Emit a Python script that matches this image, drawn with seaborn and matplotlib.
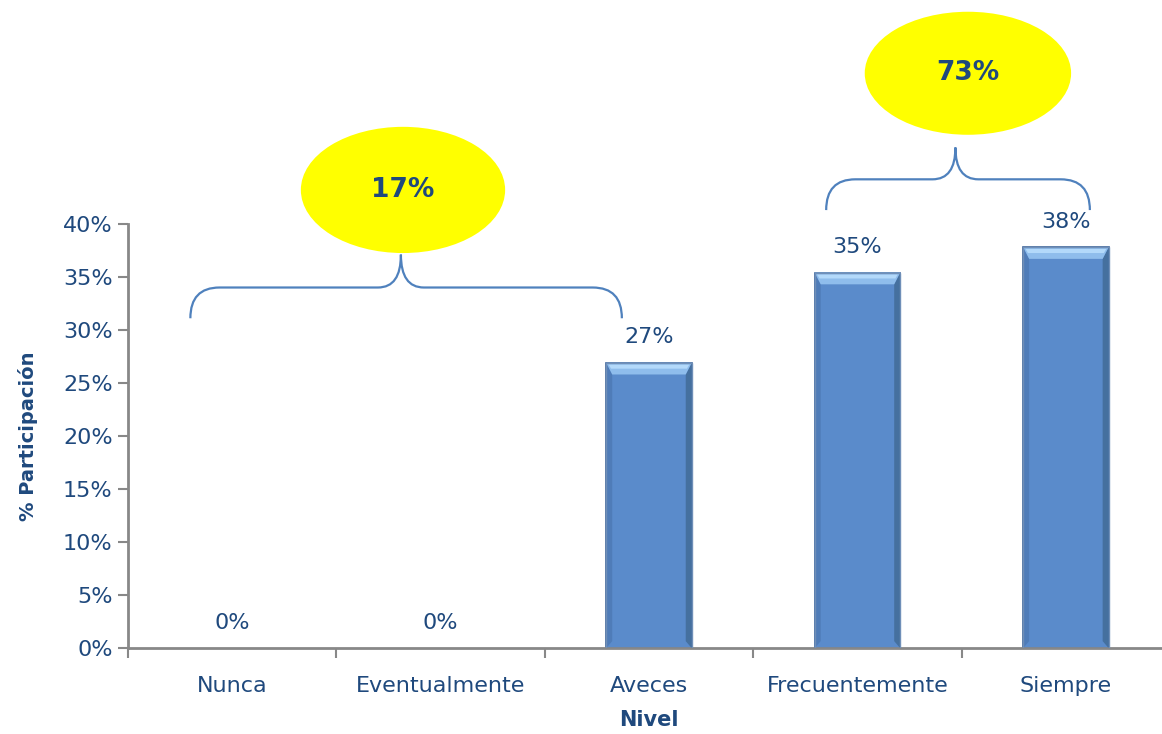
import numpy as np
import pandas as pd
import matplotlib
matplotlib.use("Agg")
import matplotlib.pyplot as plt
import seaborn as sns
from matplotlib.patches import Ellipse, Polygon, PathPatch
from matplotlib.path import Path

# Data
categories = ["Nunca", "Eventualmente", "Aveces", "Frecuentemente", "Siempre"]
values = [0.0, 0.0, 26.9, 35.4, 37.8]
y_ticks = [0, 5, 10, 15, 20, 25, 30, 35, 40]
group_labels = ["17%", "73%"]

TEXT_BLUE = "#1f497d"
BAR_BLUE = "#5a8bcb"
BAR_EDGE = "#3e659a"
SPINE_GREY = "#888888"

sns.set_theme(style="white")
plt.rcParams["font.family"] = ["DejaVu Sans"]

fig = plt.figure(figsize=(11.62, 7.34), dpi=100)
ax = fig.add_axes([0.110, 0.117, 0.897, 0.578])

df = pd.DataFrame({"Nivel": categories, "Participacion": values})
sns.barplot(data=df, x="Nivel", y="Participacion", color=BAR_BLUE,
            width=0.41, saturation=1, edgecolor=BAR_EDGE, linewidth=1.2, ax=ax)

ax.set_xlim(-0.5, 4.5)
ax.set_ylim(0, 40)

# Bevel shading on each bar: dark sides and a light top edge
for patch in list(ax.patches):
    x0 = patch.get_x()
    w = patch.get_width()
    h = patch.get_height()
    if h <= 0:
        patch.set_visible(False)
        continue
    x1 = x0 + w
    dx = w * 0.07
    dy = 1.1
    side = Polygon([(x0, 0), (x0 + dx, dy * 0.6), (x0 + dx, h - dy), (x0, h)],
                   closed=True, facecolor="#4f7cb8", edgecolor="none", zorder=3)
    side_r = Polygon([(x1, 0), (x1 - dx, dy * 0.6), (x1 - dx, h - dy), (x1, h)],
                     closed=True, facecolor="#45709f", edgecolor="none", zorder=3)
    top = Polygon([(x0, h), (x1, h), (x1 - dx, h - dy), (x0 + dx, h - dy)],
                  closed=True, facecolor="#8fbdec", edgecolor="none", zorder=3)
    top2 = Polygon([(x0 + dx * 0.4, h - dy * 0.15), (x1 - dx * 0.4, h - dy * 0.15),
                    (x1 - dx * 0.8, h - dy * 0.5), (x0 + dx * 0.8, h - dy * 0.5)],
                   closed=True, facecolor="#b3d9fa", edgecolor="none", zorder=3)
    ax.add_patch(side)
    ax.add_patch(side_r)
    ax.add_patch(top)
    ax.add_patch(top2)
    ax.add_patch(Polygon([(x0, 0), (x1, 0), (x1, h), (x0, h)], closed=True,
                         facecolor="none", edgecolor="#6f8fb8", linewidth=1.0, zorder=4))

# Value labels
for i, v in enumerate(values):
    ax.text(i, v + 2.4, f"{v:.0f}%", ha="center", va="center",
            fontsize=16, color=TEXT_BLUE)

# Axes styling
ax.set_yticks(y_ticks)
ax.set_yticklabels([f"{t}%" for t in y_ticks], fontsize=16, color=TEXT_BLUE)
ax.set_xticks(range(len(categories)))
ax.set_xticklabels(categories, fontsize=16, color=TEXT_BLUE)
ax.set_xticks(np.arange(-0.5, len(categories), 1.0), minor=True)
ax.tick_params(axis="x", which="major", length=0, pad=20)
ax.tick_params(axis="x", which="minor", length=7, width=1.5, color=SPINE_GREY,
               direction="out", bottom=True)
ax.tick_params(axis="y", which="major", length=7, width=1.5, color=SPINE_GREY,
               direction="out", pad=4, left=True)
ax.set_xlabel("Nivel", fontsize=15, fontweight="bold", color=TEXT_BLUE, labelpad=10)
ax.set_ylabel("% Participación", fontsize=14, fontweight="bold", color=TEXT_BLUE, labelpad=18)

for side in ["top", "right"]:
    ax.spines[side].set_visible(False)
for side in ["left", "bottom"]:
    ax.spines[side].set_color(SPINE_GREY)
    ax.spines[side].set_linewidth(2)
ax.grid(False)


def brace(ax, x0, x1, xc, ybase, yh, ytip, r=0.14, rc=0.11):
    verts = [(x0, ybase), (x0, yh), (x0 + r, yh), (xc - rc, yh), (xc, yh), (xc, ytip),
             (xc, yh), (xc + rc, yh), (x1 - r, yh), (x1, yh), (x1, ybase)]
    codes = [Path.MOVETO, Path.CURVE3, Path.CURVE3, Path.LINETO, Path.CURVE3, Path.CURVE3,
             Path.CURVE3, Path.CURVE3, Path.LINETO, Path.CURVE3, Path.CURVE3]
    ax.add_patch(PathPatch(Path(verts, codes), facecolor="none", edgecolor="#4f81bd",
                           linewidth=1.6, clip_on=False, zorder=5))


# Group braces with summary bubbles
brace(ax, -0.20, 1.87, 0.81, 31.1, 34.0, 37.1)
brace(ax, 2.85, 4.115, 3.47, 41.3, 44.2, 47.2)

bubbles = [((0.82, 43.2), 0.98, 11.9), ((3.53, 54.2), 0.99, 11.6)]
for (center, w, h), label in zip(bubbles, group_labels):
    ax.add_patch(Ellipse(center, w, h, facecolor="#ffff00", edgecolor="none",
                         clip_on=False, zorder=5))
    ax.text(center[0], center[1], label, ha="center", va="center", fontsize=19,
            fontweight="bold", color=TEXT_BLUE, zorder=6, clip_on=False)

fig.savefig("out.png", dpi=100)
